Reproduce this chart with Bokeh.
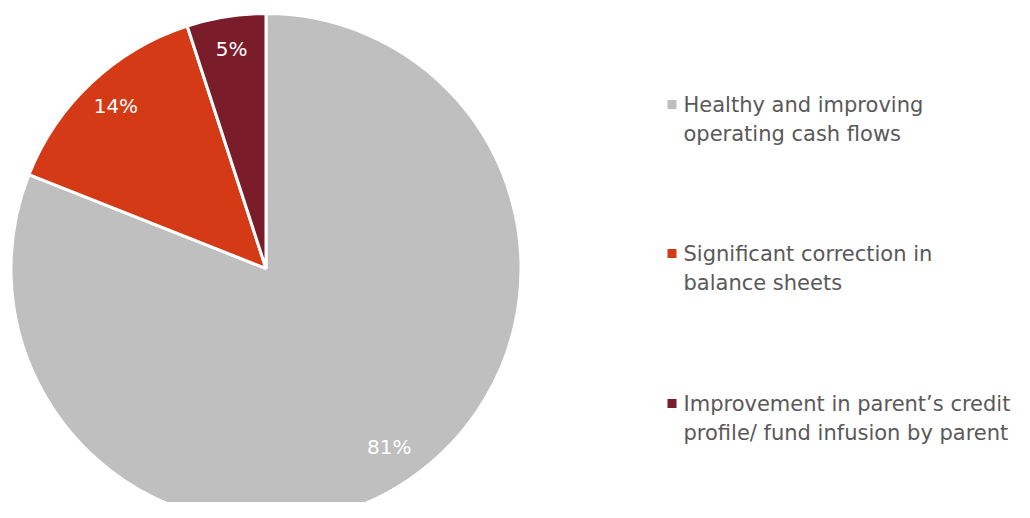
import math
from bokeh.plotting import figure
from bokeh.models import ColumnDataSource
from bokeh.core.properties import value
from bokeh.embed import file_html
from bokeh.resources import INLINE

categories = ["Healthy and improving\noperating cash flows",
              "Significant correction in\nbalance sheets",
              "Improvement in parent\u2019s credit\nprofile/ fund infusion by parent"]
shares = [81, 14, 5]
pct_labels = ["81%", "14%", "5%"]
colors = ["#BFBFBF", "#D43A16", "#7B1C2A"]

W, H = 1014, 502
FONT = "DejaVu Sans"
p = figure(width=W, height=H, x_range=(0, W), y_range=(0, H),
           output_backend="svg", toolbar_location=None, min_border=0)
p.axis.visible = False
p.grid.visible = False
p.outline_line_color = None
p.background_fill_color = "white"
p.border_fill_color = "white"

cx, cy, R = 265.5, H - 268.0, 255.0
total = sum(shares)
starts, ends, lx, ly = [], [], [], []
cum = 0.0
for s in shares:
    a0 = math.pi / 2 - 2 * math.pi * cum / total
    a1 = math.pi / 2 - 2 * math.pi * (cum + s) / total
    starts.append(a0)
    ends.append(a1)
    mid = (a0 + a1) / 2
    lx.append(cx + 0.86 * R * math.cos(mid))
    ly.append(cy + 0.86 * R * math.sin(mid) + 3)
    cum += s

src = ColumnDataSource(dict(start=starts, end=ends, color=colors,
                            lx=lx, ly=ly, lab=pct_labels))
p.wedge(x=cx, y=cy, radius=R, start_angle="start", end_angle="end",
        direction="clock", fill_color="color", line_color="white",
        line_width=3, source=src)
p.text(x="lx", y="ly", text="lab", source=src, text_color="white",
       text_font=value(FONT), text_font_size="20px",
       text_align="center", text_baseline="middle")

# legend
item_top = [104, 253, 403]
line_gap = 29
first = [c.split("\n")[0] for c in categories]
second = [c.split("\n")[1] for c in categories]
leg_src = ColumnDataSource(dict(
    x=[671.5] * 3, y=[H - t for t in item_top], y2=[H - t - line_gap for t in item_top],
    color=colors, tx=[683] * 3, l1=first, l2=second))
p.scatter(x="x", y="y", marker="square", size=9, fill_color="color",
          line_color=None, source=leg_src)
for col, ycol in (("l1", "y"), ("l2", "y2")):
    p.text(x="tx", y=ycol, text=col, source=leg_src, text_color="#595959",
           text_font=value(FONT), text_font_size="21px",
           text_align="left", text_baseline="middle")

html = file_html(p, INLINE)
open("out.html", "w").write(html)
